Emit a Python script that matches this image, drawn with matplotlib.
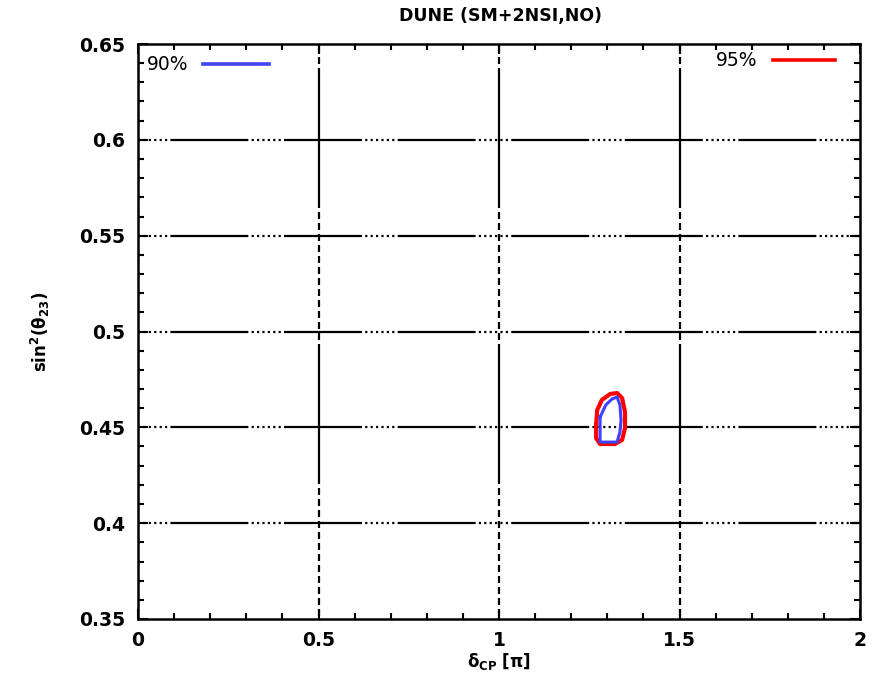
import numpy as np
import matplotlib
matplotlib.use("Agg")
import matplotlib.pyplot as plt
from matplotlib.ticker import MultipleLocator
from matplotlib.lines import Line2D

# Allowed-region contours in the (delta_CP, sin^2 theta23) plane
delta_90 = [1.280, 1.296, 1.313, 1.327, 1.335, 1.338, 1.335, 1.327, 1.280, 1.280, 1.280]
s23_90 = [0.4554, 0.4617, 0.4648, 0.4658, 0.4617, 0.4538, 0.4476, 0.4423, 0.4423, 0.4486, 0.4554]

delta_95 = [1.269, 1.272, 1.285, 1.308, 1.327, 1.341, 1.349, 1.349, 1.341, 1.321, 1.280, 1.269, 1.269]
s23_95 = [0.4512, 0.4590, 0.4643, 0.4674, 0.4679, 0.4653, 0.4580, 0.4497, 0.4434, 0.4413, 0.4413, 0.4444, 0.4512]

x_grid = [0.5, 1.0, 1.5]
y_grid = [0.4, 0.45, 0.5, 0.55, 0.6]

plt.rcParams['lines.scale_dashes'] = False
plt.rcParams['font.family'] = 'DejaVu Sans'

PX = 72.0 / 100.0  # points per pixel at dpi=100

fig = plt.figure(figsize=(8.72, 6.76), dpi=100)
ax = fig.add_axes([138 / 872, 57 / 676, 722 / 872, 575 / 676])

ax.set_xlim(0, 2)
ax.set_ylim(0.35, 0.65)

# gnuplot-like grid: long solid runs broken by dotted / dashed stretches
h_dash = [2.2 * PX, 3.2 * PX] * 6 + [78 * PX, 3.2 * PX]
v_dash = [7 * PX, 4 * PX] * 12 + [140 * PX, 4 * PX]
for y in y_grid:
    ax.plot([0, 2], [y, y], color='black', lw=1.6,
            linestyle=(0, h_dash), zorder=1)
for x in x_grid:
    ax.plot([x, x], [0.65, 0.35], color='black', lw=1.6,
            linestyle=(108 * PX, v_dash), zorder=1)

ax.plot(delta_95, s23_95, color='#ff0000', lw=3.0, solid_joinstyle='round', zorder=3)
ax.plot(delta_90, s23_90, color='#4040ff', lw=2.2, solid_joinstyle='round', zorder=4)

ax.xaxis.set_minor_locator(MultipleLocator(0.1))
ax.yaxis.set_minor_locator(MultipleLocator(0.01))
ax.set_xticks([0, 0.5, 1, 1.5, 2])
ax.set_xticklabels(['0', '0.5', '1', '1.5', '2'])
y_ticks = [0.35] + y_grid + [0.65]
ax.set_yticks(y_ticks)
ax.set_yticklabels([f'{v:g}' for v in y_ticks])

ax.tick_params(which='both', direction='in', top=True, right=True, width=1.5)
ax.tick_params(which='major', length=7, labelsize=13.5, pad=9)
ax.tick_params(which='minor', length=4)
for lab in ax.get_xticklabels() + ax.get_yticklabels():
    lab.set_fontweight('bold')
for sp in ax.spines.values():
    sp.set_linewidth(1.8)

fig.text(500 / 872, 1 - 16 / 676, 'DUNE (SM+2NSI,NO)', ha='center', va='center',
         fontsize=12.5, fontweight='bold')
fig.text(499 / 872, 1 - 661 / 676, r'δ$_{\mathbf{CP}}$ [π]', ha='center', va='center',
         fontsize=12, fontweight='bold')
fig.text(40 / 872, 1 - 332 / 676, r'sin$^{\mathbf{2}}$(θ$_{\mathbf{23}}$)', ha='center',
         va='center', rotation=90, fontsize=12, fontweight='bold')

leg1 = ax.legend([Line2D([], [], color='#4040ff', lw=2.6)], ['90%'], loc='upper left',
                 bbox_to_anchor=(0.012, 0.980), markerfirst=False, frameon=False,
                 fontsize=13.5, handlelength=3.5, handletextpad=0.8,
                 borderpad=0, borderaxespad=0)
ax.add_artist(leg1)
ax.legend([Line2D([], [], color='#ff0000', lw=2.6)], ['95%'], loc='upper right',
          bbox_to_anchor=(0.965, 0.987), markerfirst=False, frameon=False,
          fontsize=13.5, handlelength=3.3, handletextpad=0.8,
          borderpad=0, borderaxespad=0)

fig.savefig('out.png', dpi=100)
